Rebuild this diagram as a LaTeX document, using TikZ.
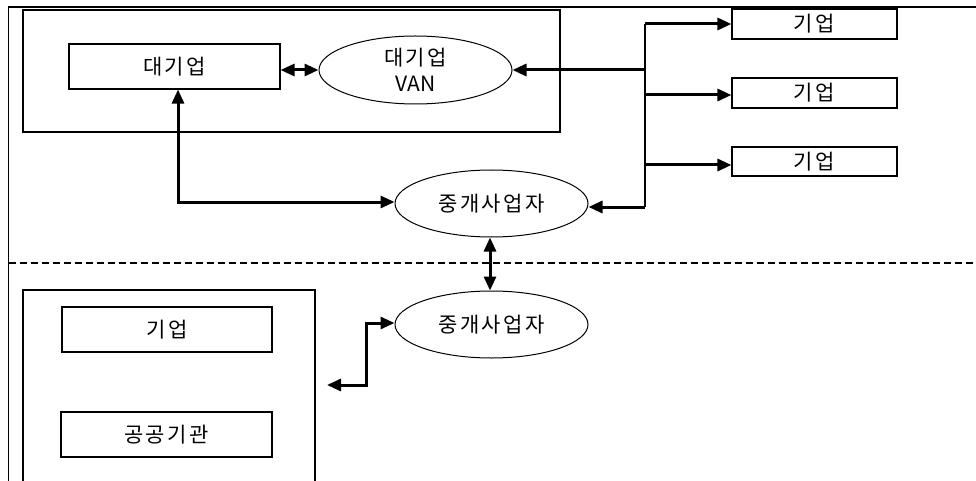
\documentclass[tikz,border=0pt]{standalone}
\usepackage{fontspec}
\newfontfamily\kr[LetterSpace=12]{Noto Sans CJK KR}
\newfontfamily\krl{Noto Sans CJK KR}
\usetikzlibrary{shapes.geometric,arrows.meta}
\begin{document}
\begin{tikzpicture}[x=1pt,y=-1pt,
  frame/.style={line width=1.4pt},
  box/.style={draw,line width=1.1pt,rectangle,inner sep=0pt,font=\kr\fontsize{21}{26}\selectfont},
  oval/.style={draw,line width=1pt,ellipse,inner sep=0pt,minimum width=193pt,minimum height=67pt,align=center,font=\kr\fontsize{21}{26}\selectfont},
  arr/.style={line width=3pt,-{Triangle[length=14pt,width=12pt]}},
  dbl/.style={line width=3pt,{Triangle[length=14pt,width=12pt]}-{Triangle[length=14pt,width=12pt]}},
  trunk/.style={line width=2pt}
]
\useasboundingbox (0,0) rectangle (976,481);
% outer frame and separator
\draw[frame] (976,7) -- (8.5,7) -- (8.5,481);
\draw[line width=2pt,dash pattern=on 7pt off 4pt] (8.5,263) -- (976,263);
% inner frames
\draw[line width=1.1pt] (23,10) rectangle (560,132);
\draw[line width=1.1pt] (23,484) -- (23,290) -- (315,290) -- (315,484);
% nodes
\node[box,minimum width=211pt,minimum height=45pt] (big) at (174.5,66.5) {대기업};
\node[oval,minimum height=68pt] (van) at (415.5,70) {대기업\\{\krl\fontsize{21}{26}\selectfont VAN}};
\node[box,minimum width=165pt,minimum height=30pt] (k1) at (814.5,24) {기업};
\node[box,minimum width=165pt,minimum height=30pt] (k2) at (814.5,93) {기업};
\node[box,minimum width=165pt,minimum height=29pt] (k3) at (814.5,161.5) {기업};
\node[oval] (m1) at (491.5,203.5) {중개사업자};
\node[oval] (m2) at (491.5,324.5) {중개사업자};
\node[box,minimum width=210pt,minimum height=45pt] (b1) at (167,329.5) {기업};
\node[box,minimum width=211pt,minimum height=45pt] (b2) at (166.5,434.5) {공공기관};
% connector coordinates
\coordinate (jt) at (645,24);
\coordinate (jv) at (645,70);
\coordinate (j2) at (645,95);
\coordinate (j3) at (645,165);
\coordinate (jb) at (645,207);
\coordinate (c1) at (178,202);
\coordinate (c2) at (366,323);
\coordinate (c3) at (366,385);
\coordinate (c4) at (327,385);
% connectors
\draw[dbl] (big.east |- van.west) -- (van.west);
\draw[trunk] (jt) -- (jb);
\draw[arr] (jv) -- (van.east);
\draw[arr] (jt) -- (k1.west);
\draw[arr] (j2) -- (j2 -| k2.west);
\draw[arr] (j3) -- (j3 -| k3.west);
\draw[arr] (jb) -- (jb -| m1.east);
\draw[dbl] (c1 |- big.south) -- (c1) -- (c1 -| m1.west);
\draw[dbl] (m1.south -| 490,0) -- (m2.north -| 490,0);
\draw[dbl] (c4) -- (c3) -- (c2) -- (c2 -| m2.west);
\end{tikzpicture}
\end{document}
